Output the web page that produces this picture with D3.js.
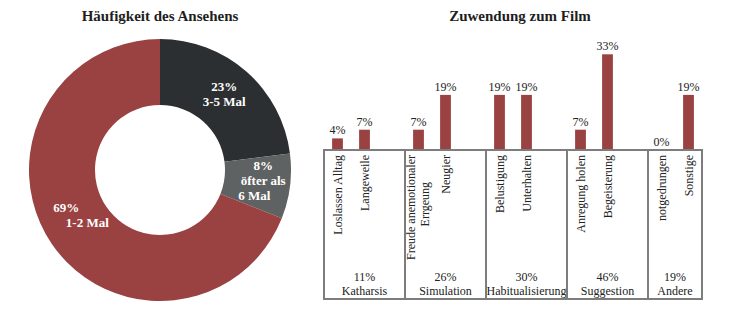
<!DOCTYPE html>
<html>
<head>
<meta charset="utf-8">
<script src="https://cdn.jsdelivr.net/npm/d3@7"></script>
<style>
  html, body { margin: 0; padding: 0; background: #ffffff; }
  svg { display: block; }
  text { font-family: "Liberation Serif", "Times New Roman", serif; }
</style>
</head>
<body>
<svg id="chart" width="735" height="331"></svg>
<script>
// Häufigkeit des Ansehens (donut)
const freqLabels = ["3-5 Mal", "öfter als|6 Mal", "1-2 Mal"];
const freqValues = [23, 8, 69];
const freqColors = ["#2c2f31", "#5f6263", "#9a4241"];

// Zuwendung zum Film (bars grouped into motive categories)
const itemLabels = [
  "Loslassen Alltag", "Langeweile",
  "Freude anemotionaler|Errgeung", "Neugier",
  "Belustigung", "Unterhalten",
  "Anregung holen", "Begeisterung",
  "notgedrungen", "Sonstige"
];
const itemValues = [4, 7, 7, 19, 19, 19, 7, 33, 0, 19];
const itemGroup = [0, 0, 1, 1, 2, 2, 3, 3, 4, 4];
const groupNames = ["Katharsis", "Simulation", "Habitualisierung", "Suggestion", "Andere"];
const groupValues = [11, 26, 30, 46, 19];

const svg = d3.select("#chart");
const barColor = "#9a4241";
const frameColor = "#7d7d7d";

/* ---------- donut ---------- */
const cx = 160, cy = 170, rOuter = 131, rInner = 65;
svg.append("text")
  .attr("x", cx).attr("y", 21)
  .attr("text-anchor", "middle")
  .attr("font-size", 15).attr("font-weight", "bold").attr("fill", "#1e1e1e")
  .text("Häufigkeit des Ansehens");

const pie = d3.pie().sort(null).value(d => d);
const arcs = pie(freqValues);
const arc = d3.arc().innerRadius(rInner).outerRadius(rOuter);
const labelArc = d3.arc().innerRadius(100).outerRadius(100);

const donut = svg.append("g").attr("transform", `translate(${cx},${cy})`);
donut.selectAll("path").data(arcs).join("path")
  .attr("d", arc)
  .attr("fill", (d, i) => freqColors[i]);

// label placement nudges per slice: [dx, dy, per-line dx]
const labelNudge = [[-2, -1, [0, 0]], [4, -2, [0, 0, -9]], [0, -11, [-11, 10]]];
arcs.forEach((a, i) => {
  const [lx, ly] = labelArc.centroid(a);
  const lines = [freqValues[i] + "%"].concat(freqLabels[i].split("|"));
  const lh = 15;
  const n = lines.length;
  const t = donut.append("text")
    .attr("text-anchor", "middle")
    .attr("font-size", 13).attr("font-weight", "bold").attr("fill", "#ffffff");
  lines.forEach((ln, j) => {
    t.append("tspan")
      .attr("x", lx + labelNudge[i][0] + (labelNudge[i][2][j] || 0))
      .attr("y", ly + labelNudge[i][1] + (j - (n - 1) / 2) * lh + 4.5)
      .text(ln);
  });
});

/* ---------- grouped bars ---------- */
svg.append("text")
  .attr("x", 520).attr("y", 21)
  .attr("text-anchor", "middle")
  .attr("font-size", 15).attr("font-weight", "bold").attr("fill", "#1e1e1e")
  .text("Zuwendung zum Film");

// slot list: items of each group followed by an empty spacer slot
const slots = [];
groupNames.forEach((g, gi) => {
  itemLabels.forEach((lab, k) => { if (itemGroup[k] === gi) slots.push("item" + k); });
  if (gi < groupNames.length - 1) slots.push("gap" + gi);
});

const left = 324, right = 702, base = 150, bottom = 299;
const x = d3.scaleBand().domain(slots).range([left, right]).paddingInner(0.6).paddingOuter(0.3);
const y = d3.scaleLinear().domain([0, 35]).range([base, base - 101.5]);
const step = x.step(), bw = x.bandwidth();
const half = (step - bw) / 2;

const bars = svg.append("g");
itemValues.forEach((v, k) => {
  const bx = x("item" + k);
  bars.append("rect")
    .attr("x", bx).attr("width", bw)
    .attr("y", y(v)).attr("height", base - y(v))
    .attr("fill", barColor);
  bars.append("text")
    .attr("x", bx + bw / 2).attr("y", y(v) - 4)
    .attr("text-anchor", "middle")
    .attr("font-size", 12).attr("fill", "#222")
    .text(v + "%");

  // rotated item label, reading bottom-to-top, hanging from the frame top
  const lines = itemLabels[k].split("|");
  const g = bars.append("g")
    .attr("transform", `translate(${bx + bw / 2},${base + 5}) rotate(-90)`);
  if (lines.length === 1) {
    g.append("text").attr("text-anchor", "end").attr("dy", "0.35em")
      .attr("font-size", 12).attr("fill", "#222").text(lines[0]);
  } else {
    g.append("text").attr("text-anchor", "end").attr("dy", -3.5)
      .attr("font-size", 12).attr("fill", "#222").text(lines[0]);
    g.append("text").attr("text-anchor", "end").attr("dx", -27).attr("dy", 10.5)
      .attr("font-size", 12).attr("fill", "#222").text(lines[1]);
  }
});

// group frames and captions
const frame = svg.append("g");
groupNames.forEach((name, gi) => {
  const members = slots.filter(s => s.startsWith("item") && itemGroup[+s.slice(4)] === gi);
  const lastSlot = gi < groupNames.length - 1 ? "gap" + gi : members[members.length - 1];
  const x0 = x(members[0]) - half;
  const x1 = x(lastSlot) + bw + half;
  const mid = (x0 + x1) / 2;
  if (gi > 0) {
    frame.append("line")
      .attr("x1", x0).attr("x2", x0).attr("y1", base).attr("y2", bottom)
      .attr("stroke", frameColor).attr("stroke-width", 2);
  }
  frame.append("text")
    .attr("x", mid).attr("y", bottom - 18)
    .attr("text-anchor", "middle").attr("font-size", 12).attr("fill", "#222")
    .text(groupValues[gi] + "%");
  frame.append("text")
    .attr("x", mid).attr("y", bottom - 4)
    .attr("text-anchor", "middle").attr("font-size", 12).attr("fill", "#222")
    .text(name);
});
frame.append("rect")
  .attr("x", left).attr("y", base)
  .attr("width", right - left).attr("height", bottom - base)
  .attr("fill", "none").attr("stroke", frameColor).attr("stroke-width", 2);
</script>
</body>
</html>
